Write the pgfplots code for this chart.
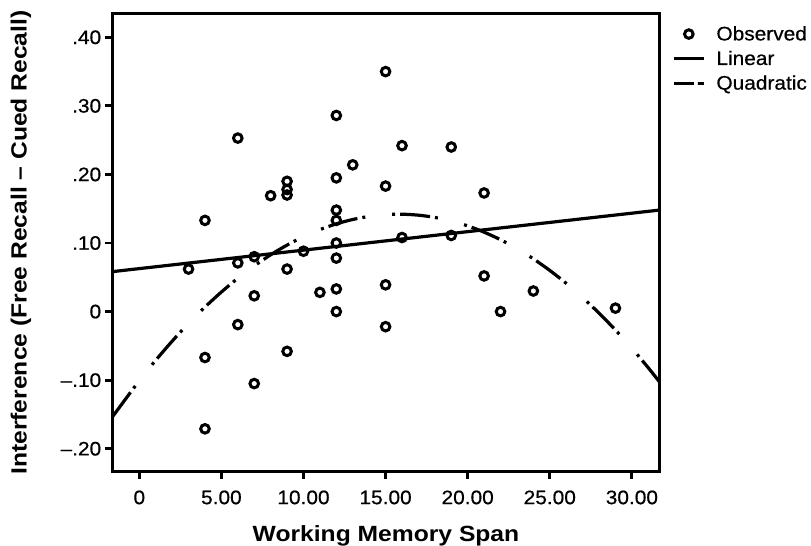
\documentclass[border=0pt]{standalone}
\usepackage{fontspec}
\setmainfont{Liberation Sans}[FakeStretch=1.07,FakeBold=0.6]
\newfontfamily\labfont{Liberation Sans}[FakeStretch=1.12]
\usepackage{pgfplots}
\pgfplotsset{compat=1.18}

\begin{document}
\begin{tikzpicture}
\begin{axis}[
  scale only axis, width=546.6bp, height=457bp,
  xmin=-1.62, xmax=31.67, ymin=-0.2325, ymax=0.434,
  axis line style={line width=3bp},
  tick align=outside, tick pos=left, major tick length=8bp,
  every tick/.style={black,line width=2.8bp},
  xtick={0,5,...,30}, xticklabels={0,5.00,10.00,15.00,20.00,25.00,30.00},
  ytick={-0.2,-0.1,0,0.1,0.2,0.3,0.4},
  yticklabels={–.20,–.10,0,.10,.20,.30,.40},
  tick label style={font=\fontsize{19.5bp}{23bp}\selectfont},
  xticklabel style={yshift=-8bp},
  xlabel={Working Memory Span},
  ylabel={Interference (Free Recall – Cued Recall)},
  label style={font=\labfont\bfseries\fontsize{22bp}{26bp}\selectfont},
  xlabel style={at={(axis description cs:0.5,-0.1420)},anchor=center},
  ylabel style={at={(axis description cs:-0.1678,0.5)},anchor=center},
  legend style={at={(1.0233,0.978)},anchor=north west,draw=none,fill=none,
    font=\fontsize{19.5bp}{23bp}\selectfont,row sep=5bp,column sep=9bp,inner sep=0pt},
  legend cell align=left,
  legend image code/.code={\draw[mark repeat=2,mark phase=2,#1]
    plot coordinates {(0bp,0bp) (15bp,0bp) (30bp,0bp)};},
]
\addplot[only marks,mark=o,mark size=4.3bp,mark options={line width=3bp,black}]
  coordinates {
  (3,0.062) (4,0.133) (4,-0.067) (4,-0.171) (6,0.253) (6,0.071) (6,-0.019)
  (7,0.080) (7,0.023) (7,-0.105) (8,0.169) (9,0.190) (9,0.178) (9,0.170)
  (9,0.062) (9,-0.058) (10,0.088) (11,0.028) (12,0.286) (12,0.195) (12,0.148)
  (12,0.133) (12,0.100) (12,0.078) (12,0.033) (12,0.000) (13,0.214)
  (15,0.350) (15,0.183) (15,0.039) (15,-0.022) (16,0.242) (16,0.108)
  (19,0.240) (19,0.111) (21,0.173) (21,0.052) (22,0.000) (24,0.030) (29,0.005)
  };
\addlegendentry{Observed}
\addplot[black,line width=3.2bp] coordinates {(-1.62,0.0583) (31.67,0.148)};
\addlegendentry{Linear}
\addplot[black,line width=3.2bp,smooth,
  dash pattern=on 30bp off 5bp on 3bp off 27bp on 3bp off 5bp,
  legend image post style={dash pattern=on 20bp off 4bp on 6bp off 10bp}]
  coordinates {
  (-1.62,-0.153) (0,-0.1007) (1,-0.0710) (2,-0.0432) (3,-0.0173) (4,0.0066)
  (5,0.0285) (6,0.0486) (7,0.0666) (8,0.0828) (9,0.0970) (10,0.1092)
  (11,0.1195) (12,0.1279) (13,0.1343) (14,0.1388) (15,0.1414) (16,0.1420)
  (17,0.1406) (18,0.1373) (19,0.1321) (20,0.1250) (21,0.1158) (22,0.1048)
  (23,0.0918) (24,0.0769) (25,0.0600) (26,0.0412) (27,0.0204) (28,-0.0023)
  (29,-0.0269) (30,-0.0535) (31,-0.0820) (31.67,-0.1022)
  };
\addlegendentry{Quadratic}
\coordinate (sw) at (rel axis cs:0,0);
\end{axis}
\pgfresetboundingbox
\path[use as bounding box] (sw) ++(-112.7bp,-75bp) rectangle ++(811bp,546bp);
\end{tikzpicture}
\end{document}
